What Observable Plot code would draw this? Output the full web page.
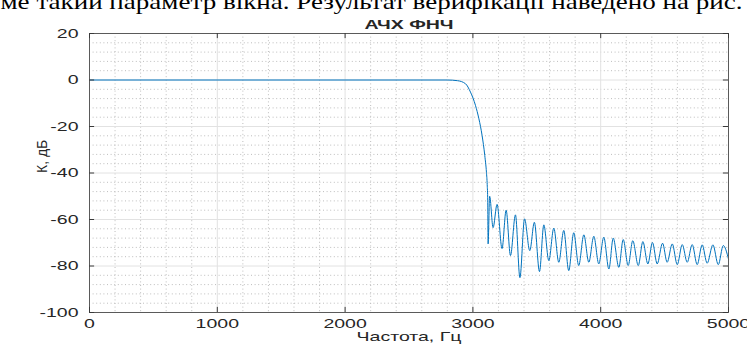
<!DOCTYPE html>
<html>
<head>
<meta charset="utf-8">
<script src="https://cdn.jsdelivr.net/npm/d3@7"></script>
<script src="https://cdn.jsdelivr.net/npm/@observablehq/plot@0.6"></script>
<style>
  html, body { margin: 0; padding: 0; background: #fff; overflow: hidden; }
  #chart { width: 747px; height: 345px; }
</style>
</head>
<body>
<div id="chart"></div>
<script>
// Frequency (Hz) and gain (dB)
const freq = [0, 2800, 2880, 2942, 2981, 3020, 3047, 3072, 3093, 3106, 3112, 3116, 3119,
  3131, 3158, 3189, 3228, 3260, 3294, 3333, 3368, 3404, 3445, 3481, 3521, 3555, 3594,
  3633, 3672, 3711, 3750, 3789, 3828, 3868, 3907, 3946, 3985, 4024, 4064, 4098, 4142,
  4176, 4215, 4251, 4294, 4330, 4369, 4405, 4442, 4484, 4520, 4560, 4599, 4638, 4677,
  4716, 4755, 4794, 4833, 4878, 4920, 4959, 5000];
const gain = [0, 0, -0.3, -1.6, -5.2, -10.9, -16.7, -23.9, -32.5, -39.7, -45, -52, -70.5,
  -50, -63.5, -53.5, -72.5, -56, -75.5, -58, -85, -59.7, -73.4, -61.2, -82.4, -62.3, -77.7,
  -63.7, -78.4, -64.7, -82, -65.7, -79.8, -66.6, -78.4, -67.2, -79.1, -67.6, -81.3, -68, -80.6,
  -68.6, -79.8, -69.1, -79.8, -69.5, -79.1, -69.9, -79.1, -70.2, -78.4, -70.5, -79.4, -70.8, -78.4,
  -70.8, -79.4, -70.9, -78.8, -70.9, -79.4, -71.2, -77];

const xTicks = [0, 1000, 2000, 3000, 4000, 5000];
const yTicks = [20, 0, -20, -40, -60, -80, -100];
const xMinor = [200, 400, 600, 800, 1200, 1400, 1600, 1800, 2200, 2400, 2600, 2800,
  3200, 3400, 3600, 3800, 4200, 4400, 4600, 4800];
const yMinor = [16, 12, 8, 4, -4, -8, -12, -16, -24, -28, -32, -36, -44, -48, -52, -56,
  -64, -68, -72, -76, -84, -88, -92, -96];

const titleText = "АЧХ ФНЧ";
const xLabel = "Частота, Гц";
const yLabel = "К, дБ";
const topSentence = "ме такий параметр вікна. Результат верифікації наведено на рис.";

const data = freq.map((f, i) => ({f, g: gain[i]}));

const chart = Plot.plot({
  width: 747,
  height: 345,
  marginLeft: 89,
  marginRight: 19,
  marginTop: 33,
  marginBottom: 33,
  x: {domain: [0, 5000]},
  y: {domain: [-100, 20]},
  style: {fontFamily: "'Liberation Sans', Arial, sans-serif", fontSize: "13px", background: "#fff", color: "#262626"},
  marks: [
    Plot.ruleX(xMinor, {stroke: "#bdbdbd", strokeWidth: 1, strokeDasharray: "1,2.6"}),
    Plot.ruleY(yMinor, {stroke: "#bdbdbd", strokeWidth: 1, strokeDasharray: "1,2.6"}),
    Plot.ruleX(xTicks, {stroke: "#e2e2e2", strokeWidth: 1}),
    Plot.ruleY(yTicks, {stroke: "#e2e2e2", strokeWidth: 1}),
    Plot.line(data, {x: "f", y: "g", stroke: "#0072bd", strokeWidth: 1, curve: "monotone-x"}),
    Plot.frame({stroke: "#5a5a5a", strokeWidth: 1}),
    // inward major ticks on all four sides
    Plot.ruleX(xTicks, {y1: -100, y2: -97.8, stroke: "#3a3a3a"}),
    Plot.ruleX(xTicks, {y1: 20, y2: 17.8, stroke: "#3a3a3a"}),
    Plot.ruleY(yTicks, {x1: 0, x2: 40, stroke: "#3a3a3a"}),
    Plot.ruleY(yTicks, {x1: 5000, x2: 4960, stroke: "#3a3a3a"}),
    Plot.axisX(xTicks, {tickSize: 0, tickPadding: 6, label: null, tickFormat: d => String(d)}),
    Plot.axisY(yTicks, {tickSize: 0, tickPadding: 11, label: null, tickFormat: d => String(d)}),
    Plot.text([titleText], {frameAnchor: "top", dy: -14, fontWeight: "bold", fontSize: 13}),
    Plot.text([xLabel], {frameAnchor: "bottom", dy: 28, fontSize: 13}),
    Plot.text([yLabel], {frameAnchor: "left", dx: -47, rotate: -90, fontSize: 14}),
    Plot.text([topSentence], {frameAnchor: "top-left", textAnchor: "start", lineAnchor: "bottom",
      dx: -89, dy: -25, fontSize: 22, fontFamily: "'Liberation Serif', 'Times New Roman', serif", fill: "#000"})
  ]
});

document.getElementById("chart").appendChild(chart);

// The reference is stretched horizontally: widen horizontal texts
d3.select(chart).selectAll("text").each(function() {
  const t = this.textContent;
  if (!t || t === yLabel) return;
  const len = this.getComputedTextLength();
  let target = len * 1.5;
  if (t === topSentence) target = 742;
  this.setAttribute("textLength", target);
  this.setAttribute("lengthAdjust", "spacingAndGlyphs");
});
</script>
</body>
</html>
